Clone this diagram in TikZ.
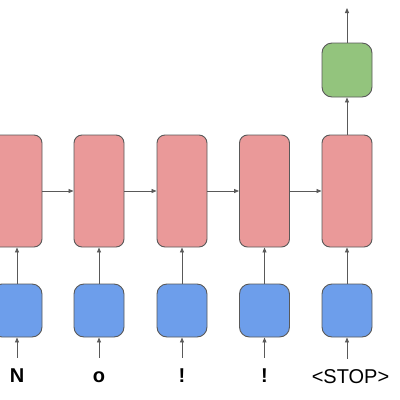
\documentclass[tikz,border=0pt]{standalone}
\usepackage{fontspec}
\setmainfont{Liberation Sans}
\usetikzlibrary{arrows.meta}
\definecolor{cellred}{HTML}{EA9999}
\definecolor{embblue}{HTML}{6D9EEB}
\definecolor{outgreen}{HTML}{93C47D}
\definecolor{edgegray}{HTML}{595959}
\begin{document}
\begin{tikzpicture}[x=1pt, y=-1pt,
   cell/.style={draw=edgegray, fill=cellred, line width=0.9pt, rounded corners=8pt,
     minimum width=50pt, minimum height=112pt, inner sep=0pt},
   emb/.style={draw=edgegray, fill=embblue, line width=0.9pt, rounded corners=10pt,
     minimum width=50pt, minimum height=53pt, inner sep=0pt},
   outbox/.style={draw=edgegray, fill=outgreen, line width=0.9pt, rounded corners=10pt,
     minimum width=50pt, minimum height=54pt, inner sep=0pt},
   tok/.style={anchor=base, font=\fontsize{20}{24}\selectfont, text height=14pt,
     text depth=4pt, inner xsep=0pt, inner ysep=10pt},
   conn/.style={draw=edgegray, line width=0.8pt, -{Triangle[length=5pt,width=4pt]}}]
   \clip (0,0) rectangle (400,400);
   \useasboundingbox (0,0) rectangle (400,400);
   % recurrent cells
   \node[cell] (cN) at (17,191) {};
   \node[cell] (co) at (99,191) {};
   \node[cell] (cx) at (182,191) {};
   \node[cell] (cy) at (264.5,191) {};
   \node[cell] (cs) at (347,191) {};
   % embeddings
   \node[emb] (bN) at (17,310.5) {};
   \node[emb] (bo) at (99,310.5) {};
   \node[emb] (bx) at (182,310.5) {};
   \node[emb] (by) at (264.5,310.5) {};
   \node[emb] (bs) at (347,310.5) {};
   % input tokens
   \node[tok] (lN) at (17,382) {\textbf{N}};
   \node[tok] (lo) at (99,382) {\textbf{o}};
   \node[tok] (lx) at (182,382) {\textbf{!}};
   \node[tok] (ly) at (264.5,382) {\textbf{!}};
   \node[tok] (ls) at (350.5,383) {<STOP>};
   % output
   \node[outbox] (g) at (347,70) {};
   \coordinate (out) at (347,8);
   \draw[conn] (lN.north) -- (bN.south);
   \draw[conn] (lo.north) -- (bo.south);
   \draw[conn] (lx.north) -- (bx.south);
   \draw[conn] (ly.north) -- (by.south);
   \draw[conn] (bs.south |- ls.north) -- (bs.south);
   \draw[conn] (bN) -- (cN);
   \draw[conn] (bo) -- (co);
   \draw[conn] (bx) -- (cx);
   \draw[conn] (by) -- (cy);
   \draw[conn] (bs) -- (cs);
   \draw[conn] (cN) -- (co);
   \draw[conn] (co) -- (cx);
   \draw[conn] (cx) -- (cy);
   \draw[conn] (cy) -- (cs);
   \draw[conn] (cs) -- (g);
   \draw[conn] (g) -- (out);
\end{tikzpicture}
\end{document}
